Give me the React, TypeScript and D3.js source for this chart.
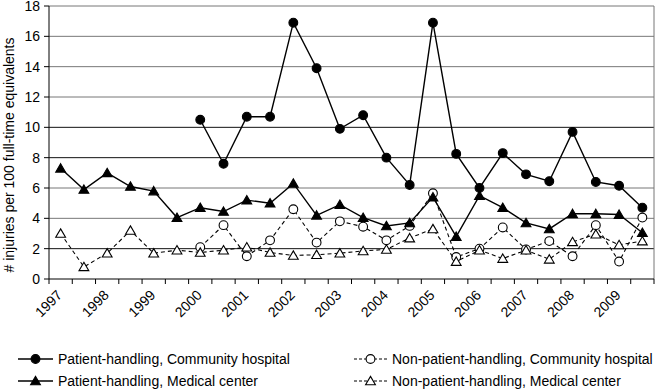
import * as d3 from "d3";

const years = ["1997", "1998", "1999", "2000", "2001", "2002", "2003", "2004", "2005", "2006", "2007", "2008", "2009"];
// two half-year periods per year
const periods = years.flatMap((y) => [`${y}-1`, `${y}-2`]);

const phCommunity = [null, null, null, null, null, null, 10.5, 7.6, 10.7, 10.7, 16.9, 13.9, 9.9, 10.8, 8.0, 6.2, 16.9, 8.25, 6.0, 8.3, 6.9, 6.45, 9.7, 6.4, 6.15, 4.7];
const npCommunity = [null, null, null, null, null, null, 2.1, 3.55, 1.5, 2.55, 4.6, 2.4, 3.8, 3.45, 2.55, 3.5, 5.65, 1.45, 2.0, 3.4, 1.95, 2.5, 1.5, 3.55, 1.15, 4.05];
const phMedical = [7.3, 5.9, 7.0, 6.1, 5.8, 4.05, 4.7, 4.45, 5.2, 5.0, 6.3, 4.2, 4.9, 4.05, 3.5, 3.7, 5.4, 2.8, 5.5, 4.7, 3.7, 3.3, 4.3, 4.3, 4.25, 3.05];
const npMedical = [3.0, 0.8, 1.7, 3.2, 1.7, 1.9, 1.75, 1.9, 2.1, 1.75, 1.55, 1.6, 1.7, 1.85, 1.95, 2.7, 3.3, 1.15, 1.9, 1.35, 1.9, 1.3, 2.45, 2.95, 2.25, 2.5];

const yTicks = [0, 2, 4, 6, 8, 10, 12, 14, 16, 18];
const darkGrid = [2, 8, 10];

const seriesList = [
  { name: "Patient-handling, Community hospital", values: phCommunity, marker: "circle", filled: true, dashed: false },
  { name: "Non-patient-handling, Community hospital", values: npCommunity, marker: "circle", filled: false, dashed: true },
  { name: "Patient-handling, Medical center", values: phMedical, marker: "triangle", filled: true, dashed: false },
  { name: "Non-patient-handling, Medical center", values: npMedical, marker: "triangle", filled: false, dashed: true },
];

const font = "Arial, 'Liberation Sans', sans-serif";
const W = 658;
const H = 389;
const left = 49;
const right = 654;
const top = 6;
const bottom = 279;

const x = d3.scaleBand<string>().domain(periods).range([left, right]).padding(0);
const y = d3.scaleLinear().domain([0, 18]).range([bottom, top]);
const cx = (p: string) => (x(p) ?? 0) + x.bandwidth() / 2;

const Marker = (props: { type: string; filled: boolean; px: number; py: number }) => {
  const { type, filled, px, py } = props;
  const fill = filled ? "#000" : "#fff";
  if (type === "circle") {
    return <circle cx={px} cy={py} r={4.4} fill={fill} stroke="#000" strokeWidth={1.1} />;
  }
  return (
    <path
      d={`M${px},${py - 4.6}L${px + 4.9},${py + 3.8}L${px - 4.9},${py + 3.8}Z`}
      fill={fill}
      stroke="#000"
      strokeWidth={1.1}
    />
  );
};

export default function App() {
  const line = d3
    .line<number | null>()
    .defined((d) => d != null)
    .x((_, i) => cx(periods[i]))
    .y((d) => y(d as number));

  const legendRows = [359, 381];
  const legendCols = [
    { x1: 18, x2: 53, tx: 58 },
    { x1: 354, x2: 387, tx: 392 },
  ];

  return (
    <svg width={W} height={H} style={{ position: "absolute", left: 0, top: 0, background: "#fff" }} fontFamily={font}>
      {/* gridlines */}
      {yTicks.filter((t) => t > 0).map((t) => (
        <line key={t} x1={left} x2={right} y1={y(t)} y2={y(t)}
          stroke={darkGrid.includes(t) ? "#111" : "#777"} strokeWidth={1} />
      ))}
      <line x1={right} x2={right} y1={top} y2={bottom} stroke="#777" />

      {/* y axis */}
      <line x1={left} x2={left} y1={top} y2={bottom} stroke="#000" />
      {yTicks.map((t) => (
        <g key={t}>
          <line x1={left - 5} x2={left} y1={y(t)} y2={y(t)} stroke="#000" />
          <text x={40} y={y(t) + 5} textAnchor="end" fontSize={14}>{t}</text>
        </g>
      ))}
      <text transform={`translate(14,155) rotate(-90)`} textAnchor="middle" fontSize={14}>
        # injuries per 100 full-time equivalents
      </text>

      {/* x axis */}
      <line x1={left} x2={right} y1={bottom} y2={bottom} stroke="#000" />
      {periods.map((p) => (
        <line key={p} x1={x(p)} x2={x(p)} y1={bottom} y2={bottom + 5} stroke="#000" />
      ))}
      <line x1={right} x2={right} y1={bottom} y2={bottom + 5} stroke="#000" />
      {years.map((yr) => (
        <text key={yr} transform={`translate(${cx(`${yr}-1`) + 2.5},296) rotate(-45)`} textAnchor="end" fontSize={14}>
          {yr}
        </text>
      ))}

      {/* series */}
      {seriesList.map((s) => (
        <g key={s.name}>
          <path d={line(s.values) ?? ""} fill="none" stroke="#000" strokeWidth={s.dashed ? 1.1 : 1.4}
            strokeDasharray={s.dashed ? "4,3" : undefined} />
          {s.values.map((v, i) =>
            v == null ? null : (
              <Marker key={i} type={s.marker} filled={s.filled} px={cx(periods[i])} py={y(v)} />
            )
          )}
        </g>
      ))}

      {/* legend */}
      {seriesList.map((s, i) => {
        const col = legendCols[i % 2];
        const ry = legendRows[Math.floor(i / 2)];
        return (
          <g key={`lg-${s.name}`}>
            <line x1={col.x1} x2={col.x2} y1={ry} y2={ry} stroke="#000" strokeWidth={s.dashed ? 1.1 : 1.4}
              strokeDasharray={s.dashed ? "3,2" : undefined} />
            <Marker type={s.marker} filled={s.filled} px={(col.x1 + col.x2) / 2} py={ry} />
            <text x={col.tx} y={ry + 5} fontSize={14}>{s.name}</text>
          </g>
        );
      })}
    </svg>
  );
}
